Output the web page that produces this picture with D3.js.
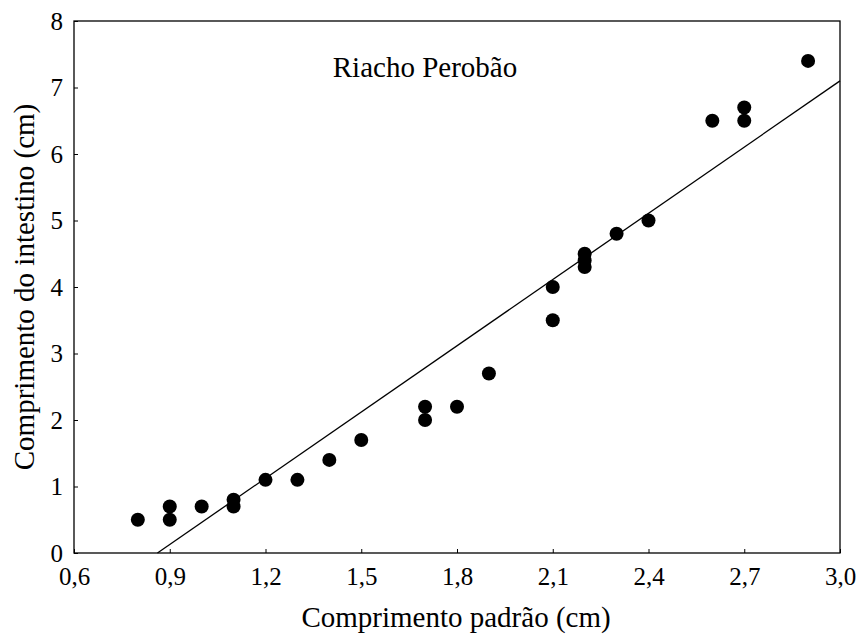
<!DOCTYPE html>
<html>
<head>
<meta charset="utf-8">
<script src="https://cdn.jsdelivr.net/npm/d3@7/dist/d3.min.js"></script>
<style>
  body { margin: 0; background: #fff; }
</style>
</head>
<body>
<svg id="chart" width="860" height="635"></svg>
<script>
// Data
const standardLength = [0.8, 0.9, 0.9, 1.0, 1.1, 1.1, 1.2, 1.3, 1.4, 1.5, 1.7, 1.7, 1.8, 1.9, 2.1, 2.1, 2.2, 2.2, 2.2, 2.3, 2.4, 2.6, 2.7, 2.7, 2.9];
const intestineLength = [0.5, 0.7, 0.5, 0.7, 0.8, 0.7, 1.1, 1.1, 1.4, 1.7, 2.2, 2.0, 2.2, 2.7, 4.0, 3.5, 4.5, 4.4, 4.3, 4.8, 5.0, 6.5, 6.7, 6.5, 7.4];
const fitIntercept = -2.86;
const fitSlope = 3.32;
const xTicks = [0.6, 0.9, 1.2, 1.5, 1.8, 2.1, 2.4, 2.7, 3.0];
const yTicks = [0, 1, 2, 3, 4, 5, 6, 7, 8];
const title = "Riacho Perobão";
const xTitle = "Comprimento padrão (cm)";
const yTitle = "Comprimento do intestino (cm)";

const FONT = "'Liberation Serif', 'DejaVu Serif', serif";
const svg = d3.select("#chart").style("font-family", FONT);
const mLeft = 74, mRight = 840, mTop = 21, mBottom = 553;

const x = d3.scaleLinear().domain([0.6, 3.0]).range([mLeft, mRight]);
const y = d3.scaleLinear().domain([0, 8]).range([mBottom, mTop]);
const fmt = d => d3.format(".1f")(d).replace(".", ",");

// frame
svg.append("rect")
  .attr("x", mLeft).attr("y", mTop)
  .attr("width", mRight - mLeft).attr("height", mBottom - mTop)
  .attr("fill", "none").attr("stroke", "#000").attr("stroke-width", 1.3);

// x axis
const xAxis = svg.append("g").attr("transform", `translate(0,${mBottom})`)
  .call(d3.axisBottom(x).tickValues(xTicks).tickFormat(fmt).tickSizeInner(-4).tickSizeOuter(0).tickPadding(0));
xAxis.attr("font-family", null).attr("font-size", null);
xAxis.select(".domain").remove();
xAxis.selectAll("text").style("font-family", FONT).style("font-size", "25px").attr("fill", "#000")
  .attr("y", 32).attr("dy", null);
xAxis.selectAll("line").attr("stroke", "#000");

// y axis
const yAxis = svg.append("g").attr("transform", `translate(${mLeft},0)`)
  .call(d3.axisLeft(y).tickValues(yTicks).tickFormat(d3.format("d")).tickSizeInner(-4).tickSizeOuter(0).tickPadding(11));
yAxis.attr("font-family", null).attr("font-size", null);
yAxis.select(".domain").remove();
yAxis.selectAll("text").style("font-family", FONT).style("font-size", "25px").attr("fill", "#000");
yAxis.selectAll("line").attr("stroke", "#000");

// regression line
const x0 = -fitIntercept / fitSlope;
const lineData = [x0, 3.0].map(v => ({ x: v, y: fitIntercept + fitSlope * v }));
svg.append("path")
  .datum(lineData)
  .attr("d", d3.line().x(d => x(d.x)).y(d => y(d.y)))
  .attr("fill", "none").attr("stroke", "#000").attr("stroke-width", 1.3);

// points
const pts = standardLength.map((v, i) => ({ x: v, y: intestineLength[i] }));
svg.append("g").selectAll("circle").data(pts).join("circle")
  .attr("cx", d => x(d.x)).attr("cy", d => y(d.y)).attr("r", 7).attr("fill", "#000");

// title
svg.append("text").attr("x", 425).attr("y", 77).attr("text-anchor", "middle")
  .style("font-family", FONT).style("font-size", "29px").text(title);

// axis titles
svg.append("text").attr("x", 456).attr("y", 627).attr("text-anchor", "middle")
  .style("font-family", FONT).style("font-size", "29px").text(xTitle);
svg.append("text").attr("transform", `translate(34,${(mTop + mBottom) / 2}) rotate(-90)`)
  .attr("text-anchor", "middle").style("font-family", FONT).style("font-size", "29px").text(yTitle);
</script>
</body>
</html>
